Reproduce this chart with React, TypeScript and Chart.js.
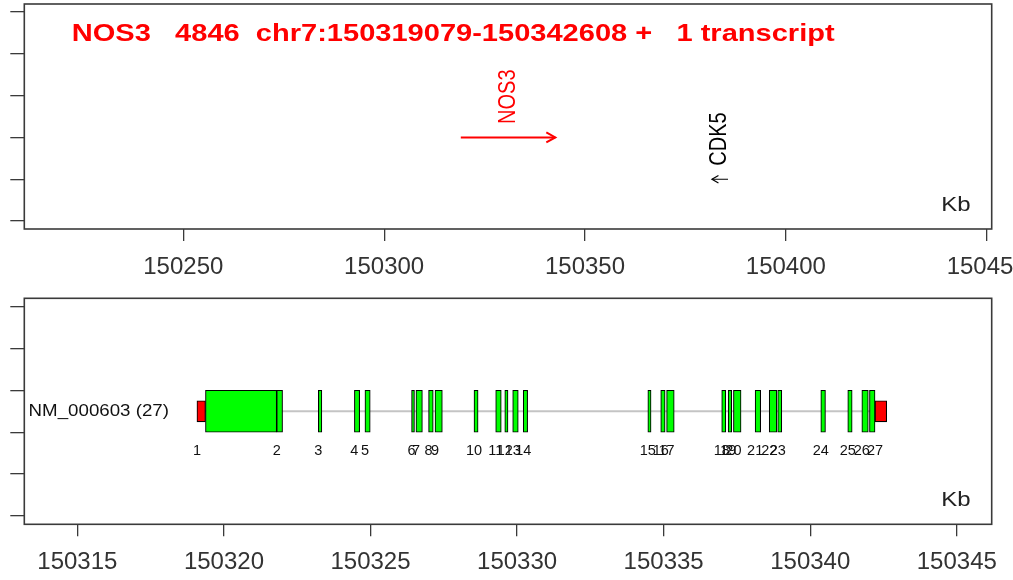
import React, { useEffect, useRef } from 'react';
import { Chart, registerables } from 'chart.js';

Chart.register(...registerables);

// ---------------- data ----------------
const titleText = 'NOS3   4846  chr7:150319079-150342608 +   1 transcript';

// top panel: genomic neighbourhood (kb)
const regionMin = 150210.42;
const regionMax = 150451.24;
const regionTicks = [150250, 150300, 150350, 150400, 150450];
const geneNames = ['NOS3', 'CDK5'];
const geneStarts = [150319.079, 150381.6];
const geneEnds = [150342.608, 150385.6];
const geneStrands = ['+', '-'];
const geneRows = [2, 1];
const focusGene = 'NOS3';

const rowTicks = [0, 1, 2, 3, 4, 5];

// bottom panel: transcript structure (kb)
const detailMin = 150313.19;
const detailMax = 150346.19;
const detailTicks = [150315, 150320, 150325, 150330, 150335, 150340, 150345];
const transcriptName = 'NM_000603 (27)';
const transcriptStart = 150319.079;
const transcriptEnd = 150342.608;
const transcriptRow = 2.5;

const cdsStarts = [
  150319.37, 150321.8, 150323.22, 150324.45, 150324.81, 150326.4, 150326.55, 150326.98, 150327.2,
  150328.53, 150329.27, 150329.58, 150329.85, 150330.21, 150334.46, 150334.9, 150335.1, 150336.98,
  150337.2, 150337.38, 150338.12, 150338.6, 150338.89, 150340.36, 150341.28, 150341.76, 150342.02,
];
const cdsEnds = [
  150321.8, 150322.0, 150323.34, 150324.63, 150324.99, 150326.5, 150326.77, 150327.14, 150327.45,
  150328.67, 150329.46, 150329.69, 150330.04, 150330.36, 150334.57, 150335.05, 150335.36, 150337.12,
  150337.32, 150337.64, 150338.31, 150338.86, 150339.03, 150340.52, 150341.43, 150341.98, 150342.21,
];
const utrStarts = [150319.079, 150342.21];
const utrEnds = [150319.37, 150342.608];

const exonNumbers = [
  1, 2, 3, 4, 5, 6, 7, 8, 9, 10, 11, 12, 13, 14, 15, 16, 17, 18, 19, 20, 21, 22, 23, 24, 25, 26, 27,
];
const exonLabelPos = [
  150319.08, 150321.8, 150323.22, 150324.45, 150324.81, 150326.4, 150326.55, 150326.98, 150327.2,
  150328.53, 150329.27, 150329.58, 150329.85, 150330.21, 150334.46, 150334.9, 150335.1, 150336.98,
  150337.2, 150337.38, 150338.12, 150338.6, 150338.89, 150340.36, 150341.28, 150341.76, 150342.21,
];

// ---------------- styles ----------------
const FONT = '"Liberation Sans", Arial, Helvetica, sans-serif';
const AXIS = '#3a3a3a';
const RED = '#ff0000';
const GREEN = '#00ff00';

function stretchText(
  ctx: CanvasRenderingContext2D,
  text: string,
  x: number,
  y: number,
  font: string,
  color: string,
  sx: number,
  align: CanvasTextAlign = 'left',
  baseline: CanvasTextBaseline = 'alphabetic'
) {
  ctx.save();
  ctx.translate(x, y);
  ctx.scale(sx, 1);
  ctx.font = font;
  ctx.fillStyle = color;
  ctx.textAlign = align;
  ctx.textBaseline = baseline;
  ctx.fillText(text, 0, 0);
  ctx.restore();
}

function xScale(min: number, max: number, ticks: number[], height: number) {
  return {
    type: 'linear',
    position: 'bottom',
    min,
    max,
    offset: false,
    afterBuildTicks: (s: any) => {
      s.ticks = ticks.map((v) => ({ value: v }));
    },
    afterFit: (s: any) => {
      s.height = height;
      s.paddingLeft = 0;
      s.paddingRight = 0;
    },
    grid: { offset: false, drawOnChartArea: false, drawTicks: true, tickLength: 12, color: AXIS, lineWidth: 1.3 },
    border: { display: false },
    ticks: {
      autoSkip: false,
      maxRotation: 0,
      minRotation: 0,
      padding: 12,
      color: '#333333',
      font: { size: 24, family: FONT },
      callback: (v: any) => String(v),
    },
  };
}

function yScale(min: number, max: number) {
  return {
    type: 'linear',
    position: 'left',
    min,
    max,
    offset: false,
    afterBuildTicks: (s: any) => {
      s.ticks = rowTicks.map((v) => ({ value: v }));
    },
    afterFit: (s: any) => {
      s.width = 24.3;
      s.paddingTop = 0;
      s.paddingBottom = 0;
    },
    grid: { offset: false, drawOnChartArea: false, drawTicks: true, tickLength: 14, color: AXIS, lineWidth: 1.3 },
    border: { display: false },
    ticks: { display: false },
  };
}

const framePlugin = {
  id: 'frame',
  afterDraw(chart: any) {
    const { ctx, chartArea: a } = chart;
    ctx.save();
    ctx.strokeStyle = AXIS;
    ctx.lineWidth = 1.6;
    ctx.strokeRect(a.left, a.top, a.right - a.left, a.bottom - a.top);
    ctx.restore();
  },
};

const kbPlugin = {
  id: 'kb',
  afterDraw(chart: any) {
    const { ctx, chartArea: a } = chart;
    stretchText(ctx, 'Kb', a.right - 21.2, a.bottom - 18.3, `20px ${FONT}`, '#222222', 1.2, 'right');
  },
};

const topTextPlugin = {
  id: 'topText',
  afterDatasetsDraw(chart: any) {
    const { ctx, chartArea: a, scales } = chart;
    const x = scales.x;
    const y = scales.y;
    geneNames.forEach((name, i) => {
      const focus = name === focusGene;
      const color = focus ? RED : '#000000';
      const py = y.getPixelForValue(geneRows[i]);
      const plus = geneStrands[i] === '+';
      const tip = x.getPixelForValue(plus ? geneEnds[i] : geneStarts[i]);
      const dir = plus ? 1 : -1;
      const len = focus ? 9 : 6.5;
      const hw = focus ? 5 : 3.7;
      ctx.save();
      ctx.strokeStyle = color;
      ctx.lineWidth = focus ? 2 : 1.2;
      ctx.beginPath();
      ctx.moveTo(tip - dir * len, py - hw);
      ctx.lineTo(tip, py);
      ctx.lineTo(tip - dir * len, py + hw);
      ctx.stroke();
      const mx = x.getPixelForValue((geneStarts[i] + geneEnds[i]) / 2);
      ctx.translate(mx, py - 13.5);
      ctx.scale(1.17, 1);
      ctx.rotate(-Math.PI / 2);
      ctx.font = `20px ${FONT}`;
      ctx.fillStyle = color;
      ctx.textAlign = 'left';
      ctx.textBaseline = 'middle';
      ctx.fillText(name, 0, 0);
      ctx.restore();
    });
    stretchText(ctx, titleText, a.left + 47.5, a.top + 36.7, `bold 24px ${FONT}`, RED, 1.21, 'left');
  },
};

const bottomTextPlugin = {
  id: 'bottomText',
  afterDatasetsDraw(chart: any) {
    const { ctx, chartArea: a, scales } = chart;
    const x = scales.x;
    const y = scales.y;
    stretchText(
      ctx,
      transcriptName,
      a.left + 4.3,
      y.getPixelForValue(transcriptRow),
      `17px ${FONT}`,
      '#111111',
      1.1,
      'left',
      'middle'
    );
    const ly = y.getPixelForValue(transcriptRow - 0.5) + 18.6;
    ctx.save();
    ctx.font = `14.5px ${FONT}`;
    ctx.fillStyle = '#111111';
    ctx.textAlign = 'center';
    ctx.textBaseline = 'middle';
    exonNumbers.forEach((n, i) => {
      ctx.fillText(String(n), x.getPixelForValue(exonLabelPos[i]), ly);
    });
    ctx.restore();
  },
};

function topConfig(): any {
  return {
    type: 'line',
    data: {
      datasets: geneNames.map((name, i) => ({
        label: name,
        data: [
          { x: geneStarts[i], y: geneRows[i] },
          { x: geneEnds[i], y: geneRows[i] },
        ],
        borderColor: name === focusGene ? RED : '#000000',
        borderWidth: name === focusGene ? 2 : 1.2,
        pointRadius: 0,
        fill: false,
      })),
    },
    options: {
      responsive: false,
      animation: false,
      devicePixelRatio: 1,
      events: [],
      layout: { autoPadding: false, padding: { top: 4, right: 21.3, left: 0, bottom: 0 } },
      plugins: { legend: { display: false }, tooltip: { enabled: false } },
      scales: {
        x: xScale(regionMin, regionMax, regionTicks, 61),
        y: yScale(-0.19, 5.19),
      },
    },
    plugins: [topTextPlugin, framePlugin, kbPlugin],
  };
}

function bottomConfig(): any {
  return {
    type: 'bar',
    data: {
      datasets: [
        {
          type: 'bar',
          label: 'UTR',
          indexAxis: 'y',
          data: utrStarts.map((s, i) => ({ x: [s, utrEnds[i]], y: transcriptRow })),
          backgroundColor: RED,
          borderColor: '#000000',
          borderWidth: 1.1,
          borderSkipped: false,
          barThickness: 21,
          grouped: false,
          order: 1,
        },
        {
          type: 'bar',
          label: 'CDS',
          indexAxis: 'y',
          data: cdsStarts.map((s, i) => ({ x: [s, cdsEnds[i]], y: transcriptRow })),
          backgroundColor: GREEN,
          borderColor: '#000000',
          borderWidth: 1.1,
          borderSkipped: false,
          barThickness: 41.9,
          grouped: false,
          order: 2,
        },
        {
          type: 'line',
          label: 'intron',
          indexAxis: 'x',
          data: [
            { x: transcriptStart, y: transcriptRow },
            { x: transcriptEnd, y: transcriptRow },
          ],
          borderColor: '#c4c4c4',
          borderWidth: 2,
          pointRadius: 0,
          fill: false,
          order: 3,
        },
      ],
    },
    options: {
      indexAxis: 'y',
      responsive: false,
      animation: false,
      devicePixelRatio: 1,
      events: [],
      layout: { autoPadding: false, padding: { top: 8.3, right: 21.3, left: 0, bottom: 0 } },
      plugins: { legend: { display: false }, tooltip: { enabled: false } },
      scales: {
        x: xScale(detailMin, detailMax, detailTicks, 55.7),
        y: yScale(-0.2, 5.2),
      },
    },
    plugins: [bottomTextPlugin, framePlugin, kbPlugin],
  };
}

export default function App() {
  const topRef = useRef<HTMLCanvasElement>(null);
  const botRef = useRef<HTMLCanvasElement>(null);
  useEffect(() => {
    const c1 = new Chart(topRef.current as HTMLCanvasElement, topConfig());
    const c2 = new Chart(botRef.current as HTMLCanvasElement, bottomConfig());
    return () => {
      c1.destroy();
      c2.destroy();
    };
  }, []);
  return (
    <div style={{ position: 'absolute', left: 0, top: 0, width: 1013, height: 580, background: '#ffffff' }}>
      <canvas ref={topRef} width={1013} height={290} style={{ display: 'block', width: 1013, height: 290 }} />
      <canvas ref={botRef} width={1013} height={290} style={{ display: 'block', width: 1013, height: 290 }} />
    </div>
  );
}
